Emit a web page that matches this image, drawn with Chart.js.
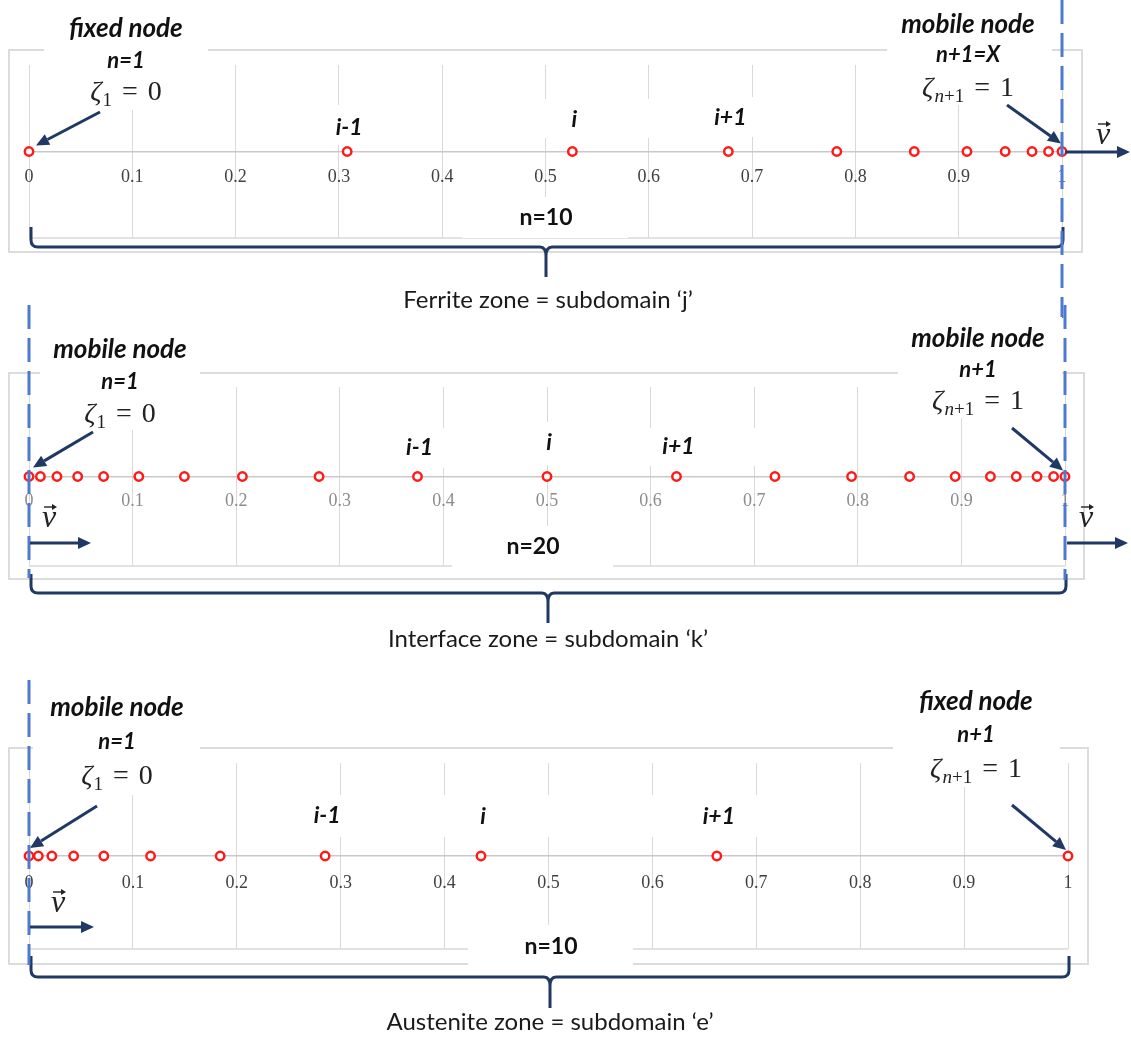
<!DOCTYPE html>
<html>
<head>
<meta charset="utf-8">
<script src="https://cdn.jsdelivr.net/npm/chart.js@4.4.1/dist/chart.umd.min.js"></script>
<style>
  html, body { margin: 0; padding: 0; background: #ffffff; }
  #wrap { position: relative; width: 1131px; height: 1039px; overflow: hidden; background: #ffffff; }
  #wrap canvas { position: absolute; left: 0; top: 0; }
</style>
</head>
<body>
<div id="wrap">
  <canvas id="c1" width="1131" height="1039"></canvas>
  <canvas id="c2" width="1131" height="1039"></canvas>
  <canvas id="c3" width="1131" height="1039"></canvas>
</div>
<script>
// ---------------- DATA ----------------
const tickLabels = ['0', '0.1', '0.2', '0.3', '0.4', '0.5', '0.6', '0.7', '0.8', '0.9', '1'];

const ferriteNodes   = [0, 0.308, 0.526, 0.677, 0.782, 0.857, 0.908, 0.945, 0.971, 0.987, 1];
const interfaceNodes = [0, 0.011, 0.027, 0.047, 0.072, 0.106, 0.150, 0.206, 0.280, 0.375, 0.5,
                        0.625, 0.720, 0.794, 0.850, 0.894, 0.928, 0.953, 0.973, 0.989, 1];
const austeniteNodes = [0, 0.009, 0.022, 0.043, 0.072, 0.117, 0.184, 0.285, 0.435, 0.662, 1];

const neighbourLabels = ['i-1', 'i', 'i+1'];
const ferriteNeighbourIdx   = [1, 2, 3];
const interfaceNeighbourIdx = [9, 10, 11];
const austeniteNeighbourIdx = [7, 8, 9];

const intervalLabels = ['n=10', 'n=20', 'n=10'];
const zoneTitles = ['Ferrite zone = subdomain \u2018j\u2019',
                    'Interface zone = subdomain \u2018k\u2019',
                    'Austenite zone = subdomain \u2018e\u2019'];

const leftNoteTitles  = ['fixed node', 'mobile node', 'mobile node'];
const leftNoteIndex   = ['n=1', 'n=1', 'n=1'];
const rightNoteTitles = ['mobile node', 'mobile node', 'fixed node'];
const rightNoteIndex  = ['n+1=X', 'n+1', 'n+1'];

// ---------------- STYLE / LAYOUT ----------------
const W = 1131, H = 1039;
const NAVY = '#1f3864';
const DASH = '#4a7bd0';
const TITLE_FONT = 'italic bold 26px Lato';
const INDEX_FONT = 'italic bold 22px Lato';
const NB_FONT = 'italic bold 23px Lato';

const panels = [
  { // Ferrite
    area: { left: 29, right: 1062, top: 65, bottom: 238 },
    tickColor: '#404040', tickPad: 15,
    frame: [9, 50, 1082, 252],
    leftNote: { box: [44, 8, 208, 110], cx: 126, ys: [29, 61, 91], sub: ['1'], val: '0', from: [100, 112], tipDx: 7, tipDy: -6 },
    rightNote: { box: [887, 0, 1052, 105], cx: 968, ys: [25, 55, 87], sub: ['n', '+1'], val: '1', from: [1007, 105], tipDx: -1, tipDy: -8 },
    nbYs: [128, 120, 118],
    nbBoxes: [[268, 105, 435, 145], [490, 99, 655, 138], [650, 97, 817, 137]],
    nBox: [462, 197, 628, 238], nText: [546, 218],
    brace: { top: 227, bottom: 247, tipX: 546, tipY: 277 },
    zone: [548, 300],
    dashed: [{ v: 1, y0: 0, y1: 318 }],
    vel: [{ v: 1, x0d: 3, x1: 1130, y: 152, lx: 1103, ly: 139 }]
  },
  { // Interface
    area: { left: 29, right: 1065, top: 387, bottom: 566 },
    tickColor: '#8c8c8c', tickPad: 14,
    frame: [9, 373, 1084, 579],
    leftNote: { box: [40, 330, 200, 430], cx: 120, ys: [350, 382, 413], sub: ['1'], val: '0', from: [93, 432], tipDx: 4, tipDy: -9 },
    rightNote: { box: [898, 317, 1062, 418], cx: 978, ys: [339, 370, 400], sub: ['n', '+1'], val: '1', from: [1012, 428], tipDx: -2, tipDy: -6 },
    nbYs: [448, 443, 447],
    nbBoxes: [[340, 428, 497, 468], [470, 422, 632, 465], [598, 428, 760, 466]],
    nBox: [452, 526, 613, 567], nText: [533, 547],
    brace: { top: 574, bottom: 593, tipX: 548, tipY: 623 },
    zone: [548, 639],
    dashed: [{ v: 0, y0: 305, y1: 578 }, { v: 1, y0: 305, y1: 580 }],
    vel: [{ v: 0, x0d: 1, x1: 91, y: 543, lx: 49, ly: 522 }, { v: 1, x0d: 2, x1: 1128, y: 543, lx: 1086, ly: 522 }]
  },
  { // Austenite
    area: { left: 29, right: 1068, top: 763, bottom: 949 },
    tickColor: '#404040', tickPad: 16,
    frame: [9, 748, 1088, 964],
    leftNote: { box: [33, 685, 200, 795], cx: 117, ys: [708, 742, 775], sub: ['1'], val: '0', from: [97, 806], tipDx: 1, tipDy: -8 },
    rightNote: { box: [893, 680, 1060, 787], cx: 976, ys: [702, 735, 768], sub: ['n', '+1'], val: '1', from: [1012, 805], tipDx: -2, tipDy: -6 },
    nbYs: [816, 817, 817],
    nbBoxes: [[243, 795, 410, 837], [400, 795, 565, 837], [637, 795, 800, 837]],
    nBox: [468, 925, 633, 967], nText: [551, 947],
    brace: { top: 956, bottom: 977, tipX: 550, tipY: 1008 },
    zone: [550, 1022],
    dashed: [{ v: 0, y0: 680, y1: 965 }],
    vel: [{ v: 0, x0d: 1, x1: 94, y: 927, lx: 58, ly: 907 }]
  }
];

// ---------------- DRAW HELPERS ----------------
function whiteBox(ctx, b) {
  ctx.save();
  ctx.fillStyle = '#ffffff';
  ctx.fillRect(b[0], b[1], b[2] - b[0], b[3] - b[1]);
  ctx.restore();
}

function text(ctx, s, x, y, font, color) {
  ctx.save();
  ctx.font = font;
  ctx.fillStyle = color || '#111111';
  ctx.textAlign = 'center';
  ctx.textBaseline = 'middle';
  ctx.fillText(s, x, y);
  ctx.restore();
}

function drawZeta(ctx, cx, cy, subParts, val) {
  ctx.save();
  const fz = 'italic 28px "Liberation Serif"';
  const fr = '28px "Liberation Serif"';
  const fsI = 'italic 19px "Liberation Serif"';
  const fsR = '19px "Liberation Serif"';
  const subFonts = subParts.map(p => (/^[a-z]/.test(p) ? fsI : fsR));
  ctx.font = fz; const wz = ctx.measureText('\u03B6').width;
  let ws = 0; const wsParts = subParts.map((p, k) => { ctx.font = subFonts[k]; const w = ctx.measureText(p).width; ws += w; return w; });
  ctx.font = fr; const we = ctx.measureText('=').width; const wv = ctx.measureText(val).width;
  const gap = 10;
  const total = wz + 1 + ws + gap + we + gap + wv;
  let x = cx - total / 2;
  const by = cy + 9;
  ctx.fillStyle = '#222222';
  ctx.textAlign = 'left';
  ctx.textBaseline = 'alphabetic';
  ctx.font = fz; ctx.fillText('\u03B6', x, by); x += wz + 1;
  subParts.forEach((p, k) => { ctx.font = subFonts[k]; ctx.fillText(p, x, by + 6); x += wsParts[k]; });
  x += gap;
  ctx.font = fr; ctx.fillText('=', x, by); x += we + gap;
  ctx.fillText(val, x, by);
  ctx.restore();
}

function arrow(ctx, x0, y0, x1, y1) {
  const ang = Math.atan2(y1 - y0, x1 - x0);
  const hl = 13, hw = 6;
  const bx = x1 - hl * Math.cos(ang), by = y1 - hl * Math.sin(ang);
  ctx.save();
  ctx.strokeStyle = NAVY; ctx.fillStyle = NAVY;
  ctx.lineWidth = 3; ctx.lineCap = 'butt';
  ctx.beginPath(); ctx.moveTo(x0, y0); ctx.lineTo(bx, by); ctx.stroke();
  ctx.beginPath();
  ctx.moveTo(x1, y1);
  ctx.lineTo(bx + hw * Math.sin(ang), by - hw * Math.cos(ang));
  ctx.lineTo(bx - hw * Math.sin(ang), by + hw * Math.cos(ang));
  ctx.closePath(); ctx.fill();
  ctx.restore();
}

function brace(ctx, xl, xr, b) {
  const r = 7;
  ctx.save();
  ctx.strokeStyle = NAVY; ctx.lineWidth = 3; ctx.lineJoin = 'round';
  ctx.beginPath();
  ctx.moveTo(xl, b.top);
  ctx.lineTo(xl, b.bottom - r);
  ctx.quadraticCurveTo(xl, b.bottom, xl + r, b.bottom);
  ctx.lineTo(b.tipX - 6, b.bottom);
  ctx.quadraticCurveTo(b.tipX, b.bottom, b.tipX, b.bottom + 9);
  ctx.lineTo(b.tipX, b.tipY);
  ctx.moveTo(b.tipX, b.bottom + 9);
  ctx.quadraticCurveTo(b.tipX, b.bottom, b.tipX + 6, b.bottom);
  ctx.lineTo(xr - r, b.bottom);
  ctx.quadraticCurveTo(xr, b.bottom, xr, b.bottom - r);
  ctx.lineTo(xr, b.top);
  ctx.stroke();
  ctx.restore();
}

function vLabel(ctx, cx, cy) {
  ctx.save();
  ctx.font = 'italic 32px "Liberation Serif"';
  ctx.fillStyle = '#222222';
  ctx.textAlign = 'center';
  ctx.textBaseline = 'middle';
  ctx.fillText('v', cx, cy - 3);
  ctx.strokeStyle = '#222222'; ctx.fillStyle = '#222222'; ctx.lineWidth = 1.4;
  const ay = cy - 15;
  ctx.beginPath(); ctx.moveTo(cx - 5, ay); ctx.lineTo(cx + 5, ay); ctx.stroke();
  ctx.beginPath(); ctx.moveTo(cx + 8, ay); ctx.lineTo(cx + 3, ay - 3); ctx.lineTo(cx + 3, ay + 3); ctx.closePath(); ctx.fill();
  ctx.restore();
}

// ---------------- PLUGIN ----------------
function annotator(P, nodes, nbIdx, k) {
  return {
    id: 'annot' + k,
    beforeDraw(chart) {
      const ctx = chart.ctx, a = chart.chartArea;
      ctx.save();
      ctx.strokeStyle = '#dcdcdc'; ctx.lineWidth = 2;
      const f = P.frame;
      ctx.strokeRect(f[0], f[1], f[2] - f[0], f[3] - f[1]);
      ctx.strokeStyle = '#d9d9d9'; ctx.lineWidth = 1.5;
      ctx.beginPath(); ctx.moveTo(a.left, a.bottom); ctx.lineTo(a.right, a.bottom); ctx.stroke();
      ctx.restore();
    },
    afterDraw(chart) {
      const ctx = chart.ctx;
      const xs = chart.scales.x, ys = chart.scales.y;
      const ax = ys.getPixelForValue(0);
      const px = v => xs.getPixelForValue(v);

      whiteBox(ctx, P.leftNote.box);
      whiteBox(ctx, P.rightNote.box);
      P.nbBoxes.forEach(b => whiteBox(ctx, b));
      whiteBox(ctx, P.nBox);

      const L = P.leftNote, R = P.rightNote;
      text(ctx, leftNoteTitles[k], L.cx, L.ys[0], TITLE_FONT);
      text(ctx, leftNoteIndex[k], L.cx, L.ys[1], INDEX_FONT);
      drawZeta(ctx, L.cx, L.ys[2], L.sub, L.val);
      text(ctx, rightNoteTitles[k], R.cx, R.ys[0], TITLE_FONT);
      text(ctx, rightNoteIndex[k], R.cx, R.ys[1], INDEX_FONT);
      drawZeta(ctx, R.cx, R.ys[2], R.sub, R.val);

      nbIdx.forEach((ix, j) => text(ctx, neighbourLabels[j], px(nodes[ix]) + 2, P.nbYs[j], NB_FONT));

      text(ctx, intervalLabels[k], P.nText[0], P.nText[1], 'bold 23px Lato');

      arrow(ctx, L.from[0], L.from[1], px(nodes[0]) + L.tipDx, ax + L.tipDy);
      arrow(ctx, R.from[0], R.from[1], px(nodes[nodes.length - 1]) + R.tipDx, ax + R.tipDy);

      brace(ctx, px(0) + 2, px(1) + 1, P.brace);
      text(ctx, zoneTitles[k], P.zone[0], P.zone[1], '24px Lato', '#1a1a1a');

      ctx.save();
      ctx.strokeStyle = DASH; ctx.lineWidth = 3; ctx.setLineDash([24, 9]);
      P.dashed.forEach(d => {
        const x = px(d.v);
        ctx.beginPath(); ctx.moveTo(x, d.y0); ctx.lineTo(x, d.y1); ctx.stroke();
      });
      ctx.restore();

      P.vel.forEach(v => {
        arrow(ctx, px(v.v) + v.x0d, v.y, v.x1, v.y);
        vLabel(ctx, v.lx, v.ly);
      });
    }
  };
}

// ---------------- CHARTS ----------------
function makeChart(id, nodes, P, nbIdx, k) {
  return new Chart(document.getElementById(id), {
    type: 'scatter',
    data: {
      datasets: [{
        data: nodes.map(v => ({ x: v, y: 0 })),
        showLine: false,
        pointStyle: 'circle',
        pointRadius: 4.2,
        pointHoverRadius: 4.2,
        pointBorderWidth: 2.5,
        pointBorderColor: '#ff1a1a',
        pointBackgroundColor: '#ffffff',
        clip: false
      }]
    },
    options: {
      responsive: false,
      animation: false,
      events: [],
      devicePixelRatio: 1,
      layout: { padding: { left: P.area.left, right: W - P.area.right, top: P.area.top, bottom: H - P.area.bottom } },
      plugins: { legend: { display: false }, tooltip: { enabled: false }, title: { display: false } },
      scales: {
        x: {
          type: 'linear', min: 0, max: 1, position: { y: 0 },
          ticks: {
            stepSize: 0.1, autoSkip: false, maxRotation: 0, minRotation: 0,
            padding: P.tickPad, color: P.tickColor,
            font: { family: '"Liberation Serif", "Times New Roman", serif', size: 18 },
            callback: (v, i) => tickLabels[i]
          },
          grid: { color: '#d9d9d9', lineWidth: 1, drawTicks: false },
          border: { display: true, color: '#c9c9c9', width: 1.5 }
        },
        y: { display: false, min: -1, max: 1 }
      }
    },
    plugins: [annotator(P, nodes, nbIdx, k)]
  });
}

makeChart('c1', ferriteNodes, panels[0], ferriteNeighbourIdx, 0);
makeChart('c2', interfaceNodes, panels[1], interfaceNeighbourIdx, 1);
makeChart('c3', austeniteNodes, panels[2], austeniteNeighbourIdx, 2);
</script>
</body>
</html>
